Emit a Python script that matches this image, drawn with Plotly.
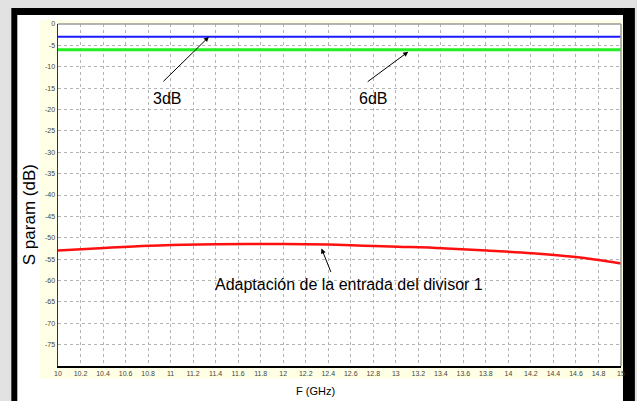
import plotly.graph_objects as go

# ---- data ----
freq_ref = [10.0, 15.0]
s_3db = [-3.0, -3.0]
s_6db = [-6.0, -6.0]

freq_s11 = [10.0, 10.37, 10.81, 11.25, 11.69, 12.0, 12.40, 12.71, 13.02, 13.41, 13.81, 14.21, 14.60, 15.0]
s11 = [-53.0, -52.45, -51.85, -51.55, -51.45, -51.45, -51.6, -51.85, -52.1, -52.45, -53.0, -53.6, -54.5, -56.0]

x_tickvals = [10 + 0.2 * i for i in range(26)]
x_ticktext = ["10", "10.2", "10.4", "10.6", "10.8", "11", "11.2", "11.4", "11.6", "11.8",
              "12", "12.2", "12.4", "12.6", "12.8", "13", "13.2", "13.4", "13.6", "13.8",
              "14", "14.2", "14.4", "14.6", "14.8", "15"]
y_tickvals = [0, -5, -10, -15, -20, -25, -30, -35, -40, -45, -50, -55, -60, -65, -70, -75]
y_ticktext = ["0", "-5", "-10", "-15", "-20", "-25", "-30", "-35", "-40", "-45", "-50", "-55",
              "-60", "-65", "-70", "-75"]

# ---- layout geometry (pixels) ----
W, H = 637, 401
L, R, T, B = 58, 12, 24, 35
PW, PH = W - L - R, H - T - B


def px(x):
    return (x - L) / PW


def py(y):
    return (H - B - y) / PH


fig = go.Figure()
fig.add_trace(go.Scatter(x=freq_ref, y=s_3db, mode="lines", line=dict(color="#1a1aff", width=2),
                         showlegend=False, hoverinfo="skip"))
fig.add_trace(go.Scatter(x=freq_ref, y=s_6db, mode="lines", line=dict(color="#22ee22", width=3),
                         showlegend=False, hoverinfo="skip"))
fig.add_trace(go.Scatter(x=freq_s11, y=s11, mode="lines", line=dict(color="#ff1010", width=2.5, shape="spline"),
                         showlegend=False, hoverinfo="skip"))

shapes = [
    # black frame
    dict(type="rect", xref="paper", yref="paper", x0=px(11), x1=px(W + 2), y0=py(8), y1=py(H + 2),
         fillcolor="#000000", line=dict(width=0), layer="below"),
    # white inner
    dict(type="rect", xref="paper", yref="paper", x0=px(17), x1=px(627), y0=py(15), y1=py(H + 2),
         fillcolor="#ffffff", line=dict(width=0), layer="below"),
    # cream chart panel
    dict(type="rect", xref="paper", yref="paper", x0=px(40), x1=px(627), y0=py(20), y1=py(379),
         fillcolor="#ffffe6", line=dict(width=0), layer="below"),
    # plot area
    dict(type="rect", xref="paper", yref="paper", x0=0, x1=1, y0=0, y1=1,
         fillcolor="#ffffff", line=dict(width=0), layer="below"),
    # top / right gray border
    dict(type="line", xref="paper", yref="paper", x0=0, x1=1, y0=1, y1=1,
         line=dict(color="#9a9a9a", width=1.5), layer="above"),
    dict(type="line", xref="paper", yref="paper", x0=1, x1=1, y0=0, y1=1,
         line=dict(color="#9a9a9a", width=1.5), layer="above"),
]

ann_font = dict(family="Arial, Liberation Sans, sans-serif", size=16, color="#000000")
annotations = [
    # arrows
    dict(x=11.34, y=-3.0, ax=-47, ay=46, text="", showarrow=True, arrowhead=2, arrowsize=1,
         arrowwidth=1, arrowcolor="#000000"),
    dict(x=13.11, y=-6.5, ax=-42, ay=31, text="", showarrow=True, arrowhead=2, arrowsize=1,
         arrowwidth=1, arrowcolor="#000000"),
    dict(x=12.34, y=-52.5, ax=10, ay=25, text="", showarrow=True, arrowhead=2, arrowsize=1,
         arrowwidth=1, arrowcolor="#000000"),
    # labels
    dict(x=10.97, y=-17.5, text="3dB", showarrow=False, font=ann_font,
         xanchor="center", yanchor="middle"),
    dict(x=12.80, y=-17.5, text="6dB", showarrow=False, font=ann_font,
         xanchor="center", yanchor="middle"),
    dict(x=12.58, y=-60.9, text="Adaptación de la entrada del divisor 1", showarrow=False, font=ann_font,
         xanchor="center", yanchor="middle"),
    # axis titles
    dict(xref="paper", yref="paper", x=px(317), y=py(391), text="F (GHz)", showarrow=False,
         xanchor="center", yanchor="middle",
         font=dict(family="Arial, Liberation Sans, sans-serif", size=11, color="#000000")),
    dict(xref="paper", yref="paper", x=px(29), y=py(215), text="S param (dB)", textangle=-90,
         showarrow=False, xanchor="center", yanchor="middle",
         font=dict(family="Arial, Liberation Sans, sans-serif", size=17, color="#000000")),
]

tick_font = dict(family="Arial, Liberation Sans, sans-serif", size=7, color="#444444")

fig.update_layout(
    width=W, height=H,
    margin=dict(l=L, r=R, t=T, b=B, pad=0),
    paper_bgcolor="#e2e2e2",
    plot_bgcolor="rgba(0,0,0,0)",
    shapes=shapes,
    annotations=annotations,
    hovermode=False,
    xaxis=dict(range=[10, 15], tickvals=x_tickvals, ticktext=x_ticktext, tickfont=tick_font,
               showgrid=True, gridcolor="#b4b4b4", griddash="dot", gridwidth=1, zeroline=False,
               showline=True, linecolor="#000000", linewidth=2, ticks="", fixedrange=True),
    yaxis=dict(range=[-80, 0], tickvals=y_tickvals, ticktext=y_ticktext, tickfont=tick_font,
               showgrid=True, gridcolor="#b4b4b4", griddash="dot", gridwidth=1, zeroline=False,
               showline=True, linecolor="#333333", linewidth=1.5, ticks="", fixedrange=True),
)

fig.write_html("out.html", config={"displayModeBar": False, "staticPlot": True},
               post_script="document.body.style.margin='0';document.body.style.padding='0';document.body.style.overflow='hidden';")
